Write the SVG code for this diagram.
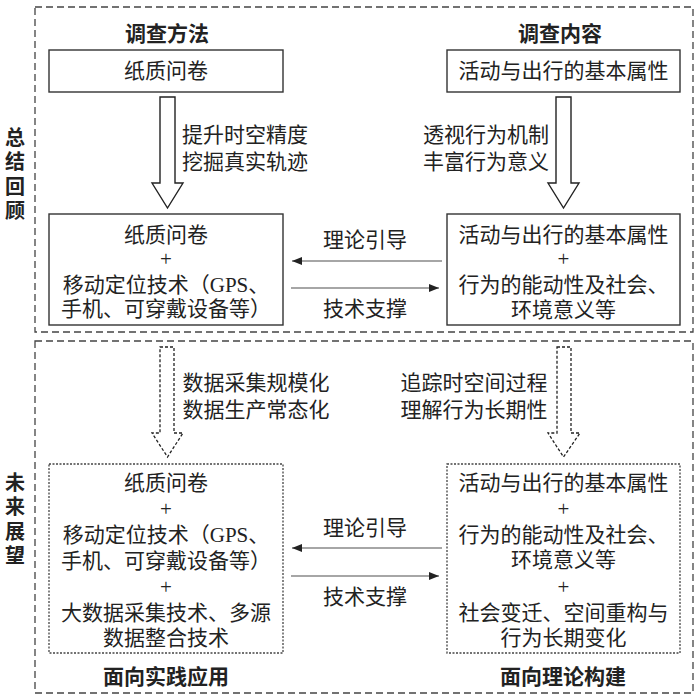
<svg xmlns="http://www.w3.org/2000/svg" width="700" height="700" viewBox="0 0 700 700">
<defs>
<style>
.t{font-family:"Liberation Serif","Noto Sans CJK SC",serif;font-size:21px;fill:#222;text-anchor:middle;dominant-baseline:central}
.h{font-family:"Noto Sans CJK SC","Liberation Sans",sans-serif;font-size:21px;font-weight:bold;fill:#222;text-anchor:middle;dominant-baseline:central}
.v{font-family:"Noto Sans CJK SC","Liberation Sans",sans-serif;font-size:20px;font-weight:bold;fill:#222;writing-mode:vertical-rl;text-anchor:middle;letter-spacing:4.3px}
.sec{fill:none;stroke:#444;stroke-width:1.3;stroke-dasharray:7,4}
.box{fill:#fff;stroke:#333;stroke-width:1.4}
.dbox{fill:#fff;stroke:#444;stroke-width:1.3;stroke-dasharray:2,1.5}
.ha{fill:#fff;stroke:#222;stroke-width:1.4}
.da{fill:#fff;stroke:#222;stroke-width:1.3;stroke-dasharray:3,2}
.ln{stroke:#888;stroke-width:1.4;fill:none}
</style>
<marker id="ah" viewBox="0 0 10 8" refX="10" refY="4" markerWidth="10" markerHeight="8" markerUnits="userSpaceOnUse" orient="auto-start-reverse">
<path d="M0,0 L10,4 L0,8 Z" fill="#222"/>
</marker>
</defs>

<g id="sections">
<rect class="sec" x="35" y="7" width="658" height="325"/>
<rect class="sec" x="35" y="341" width="658" height="352"/>
<text class="v" x="15" y="176">总结回顾</text>
<text class="v" x="15" y="521">未来展望</text>
<text class="h" x="167" y="32">调查方法</text>
<text class="h" x="560" y="32">调查内容</text>
<text class="h" x="166" y="675">面向实践应用</text>
<text class="h" x="563" y="675">面向理论构建</text>
</g>

<g id="connectors">
<path class="ha" d="M160,97 H175 V183 H183 L167.5,208 L152,183 H160 Z"/>
<path class="ha" d="M556,97 H571 V183 H579 L563.5,208 L548,183 H556 Z"/>
<path class="da" d="M160,347 H174 V433 H183 L167.5,457 L152,433 H160 Z"/>
<path class="da" d="M557,347 H571 V433 H580 L563.5,457 L548,433 H557 Z"/>
<text class="t" x="245" y="135">提升时空精度</text>
<text class="t" x="245" y="162">挖掘真实轨迹</text>
<text class="t" x="486" y="135">透视行为机制</text>
<text class="t" x="486" y="162">丰富行为意义</text>
<text class="t" x="256" y="383">数据采集规模化</text>
<text class="t" x="256" y="410">数据生产常态化</text>
<text class="t" x="474" y="383">追踪时空间过程</text>
<text class="t" x="474" y="410">理解行为长期性</text>

<line class="ln" x1="442" y1="261" x2="292" y2="261" marker-end="url(#ah)"/>
<line class="ln" x1="291" y1="288" x2="439" y2="288" marker-end="url(#ah)"/>
<text class="t" x="365" y="240">理论引导</text>
<text class="t" x="365" y="309">技术支撑</text>

<line class="ln" x1="442" y1="548" x2="292" y2="548" marker-end="url(#ah)"/>
<line class="ln" x1="291" y1="576" x2="439" y2="576" marker-end="url(#ah)"/>
<text class="t" x="365" y="528">理论引导</text>
<text class="t" x="365" y="597">技术支撑</text>
</g>

<g id="n1">
<rect class="box" x="49" y="50" width="234" height="42"/>
<text class="t" x="166" y="71">纸质问卷</text>
</g>
<g id="n2">
<rect class="box" x="447" y="50" width="233" height="42"/>
<text class="t" x="563.5" y="71">活动与出行的基本属性</text>
</g>
<g id="n3">
<rect class="box" x="49" y="214" width="234" height="111"/>
<text class="t" x="166" y="235">纸质问卷</text>
<text class="t" x="166" y="259">+</text>
<text class="t" x="166" y="285">移动定位技术（GPS、</text>
<text class="t" x="166" y="309">手机、可穿戴设备等）</text>
</g>
<g id="n4">
<rect class="box" x="447" y="214" width="233" height="111"/>
<text class="t" x="563.5" y="235">活动与出行的基本属性</text>
<text class="t" x="563.5" y="259">+</text>
<text class="t" x="563.5" y="285">行为的能动性及社会、</text>
<text class="t" x="563.5" y="310">环境意义等</text>
</g>
<g id="n5">
<rect class="dbox" x="49" y="464" width="234" height="189"/>
<text class="t" x="166" y="483">纸质问卷</text>
<text class="t" x="166" y="509">+</text>
<text class="t" x="166" y="535">移动定位技术（GPS、</text>
<text class="t" x="166" y="561">手机、可穿戴设备等）</text>
<text class="t" x="166" y="587">+</text>
<text class="t" x="166" y="613">大数据采集技术、多源</text>
<text class="t" x="166" y="638">数据整合技术</text>
</g>
<g id="n6">
<rect class="dbox" x="447" y="464" width="233" height="189"/>
<text class="t" x="563.5" y="483">活动与出行的基本属性</text>
<text class="t" x="563.5" y="509">+</text>
<text class="t" x="563.5" y="535">行为的能动性及社会、</text>
<text class="t" x="563.5" y="560">环境意义等</text>
<text class="t" x="563.5" y="587">+</text>
<text class="t" x="563.5" y="613">社会变迁、空间重构与</text>
<text class="t" x="563.5" y="638">行为长期变化</text>
</g>
</svg>
